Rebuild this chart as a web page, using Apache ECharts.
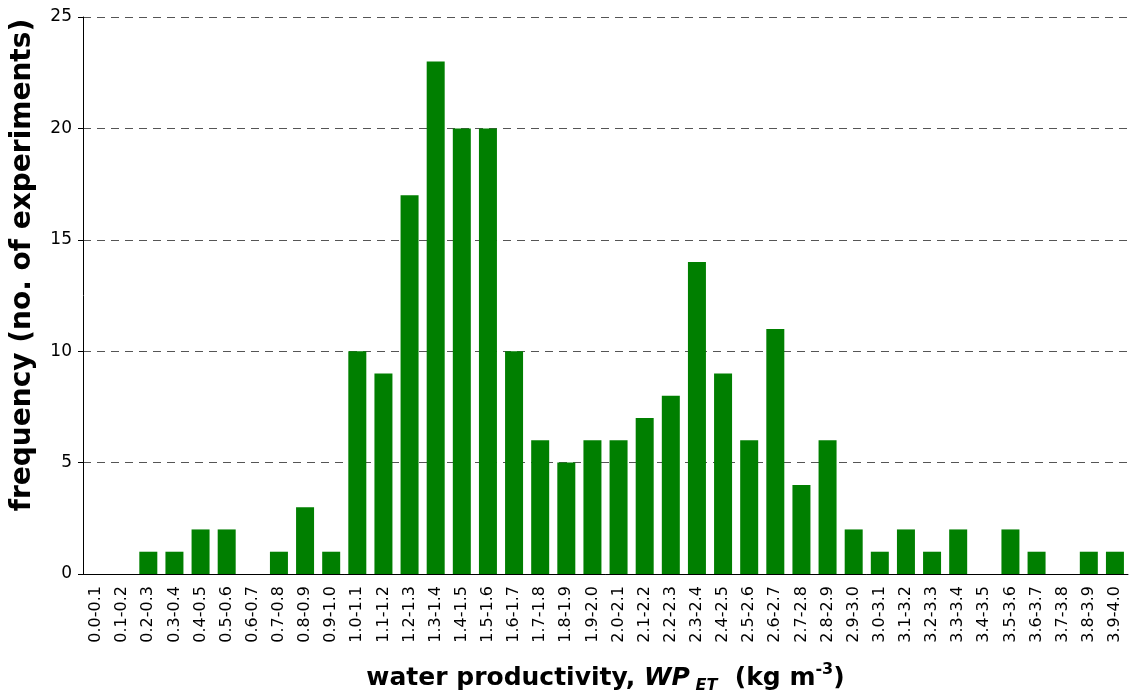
<!DOCTYPE html>
<html>
<head>
<meta charset="utf-8">
<script src="https://cdn.jsdelivr.net/npm/echarts@6/dist/echarts.min.js"></script>
<style>
  html, body { margin: 0; padding: 0; background: #fff; }
  #chart { width: 1136px; height: 693px; }
</style>
</head>
<body>
<div id="chart"></div>
<script>
var classes = ['0.0-0.1', '0.1-0.2', '0.2-0.3', '0.3-0.4', '0.4-0.5', '0.5-0.6', '0.6-0.7', '0.7-0.8', '0.8-0.9', '0.9-1.0',
    '1.0-1.1', '1.1-1.2', '1.2-1.3', '1.3-1.4', '1.4-1.5', '1.5-1.6', '1.6-1.7', '1.7-1.8', '1.8-1.9', '1.9-2.0',
    '2.0-2.1', '2.1-2.2', '2.2-2.3', '2.3-2.4', '2.4-2.5', '2.5-2.6', '2.6-2.7', '2.7-2.8', '2.8-2.9', '2.9-3.0',
    '3.0-3.1', '3.1-3.2', '3.2-3.3', '3.3-3.4', '3.4-3.5', '3.5-3.6', '3.6-3.7', '3.7-3.8', '3.8-3.9', '3.9-4.0'];
var frequency = [0, 0, 1, 1, 2, 2, 0, 1, 3, 1,
    10, 9, 17, 23, 20, 20, 10, 6, 5, 6,
    6, 7, 8, 14, 9, 6, 11, 4, 6, 2,
    1, 2, 1, 2, 0, 2, 1, 0, 1, 1];
var yTicks = [0, 5, 10, 15, 20, 25];

var font = 'DejaVu Sans, Verdana, sans-serif';

var chart = echarts.init(document.getElementById('chart'));
chart.setOption({
    animation: false,
    grid: { left: 83, right: 8, top: 17, bottom: 119, containLabel: false, outerBoundsMode: 'none' },
    graphic: [{
        type: 'text',
        x: 23,
        y: 265,
        rotation: Math.PI / 2,
        style: {
            text: 'frequency (no. of experiments)',
            font: 'bold 28px ' + font,
            fill: '#000',
            align: 'center',
            verticalAlign: 'middle'
        }
    }],
    xAxis: {
        type: 'category',
        data: classes,
        name: '{b|water productivity, }{i|WP}{sub| ET}{b|  (kg m}{sup|-3}{b|)}',
        nameLocation: 'middle',
        nameGap: 88,
        nameTextStyle: {
            rich: {
                b: { fontFamily: font, fontWeight: 'bold', fontSize: 25, color: '#000' },
                i: { fontFamily: font, fontWeight: 'bold', fontStyle: 'italic', fontSize: 25, color: '#000' },
                sub: { fontFamily: font, fontWeight: 'bold', fontStyle: 'italic', fontSize: 16, color: '#000', padding: [16, 0, 0, 0] },
                sup: { fontFamily: font, fontWeight: 'bold', fontSize: 16, color: '#000', padding: [0, 0, 16, 0] }
            }
        },
        axisLine: { lineStyle: { color: '#000', width: 1 } },
        axisTick: { alignWithLabel: false, length: 5, lineStyle: { color: '#000' } },
        axisLabel: { rotate: 90, interval: 0, fontFamily: font, fontSize: 16, color: '#000', margin: 12 },
        splitLine: { show: false }
    },
    yAxis: {
        type: 'value',
        min: 0,
        max: yTicks[yTicks.length - 1],
        interval: yTicks[1] - yTicks[0],
        axisLine: { show: true, lineStyle: { color: '#000', width: 1 } },
        axisTick: { show: true, length: 5, lineStyle: { color: '#000' } },
        axisLabel: { fontFamily: font, fontSize: 17, color: '#000', margin: 11 },
        splitLine: { show: true, lineStyle: { color: '#555', type: [8, 6], width: 1 } }
    },
    series: [{
        type: 'bar',
        data: frequency,
        barWidth: 18,
        itemStyle: { color: '#007f00' }
    }]
});
</script>
</body>
</html>
